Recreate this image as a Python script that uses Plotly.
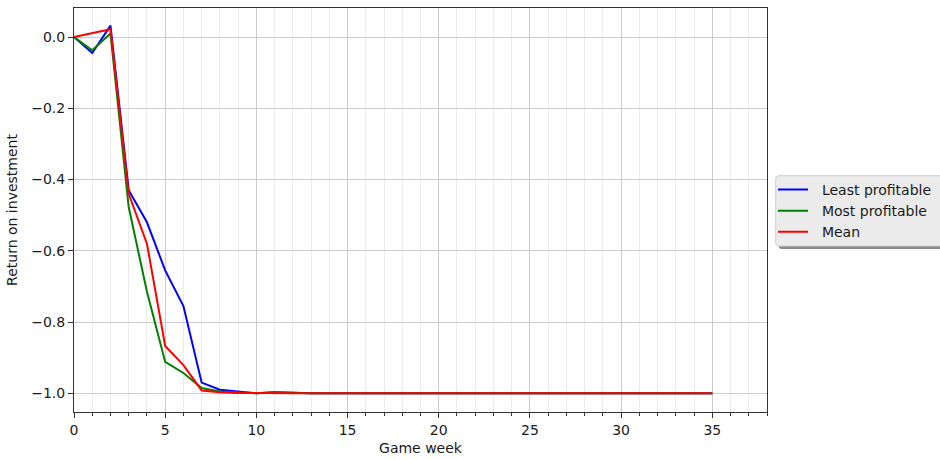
import plotly.graph_objects as go

weeks = list(range(0, 36))
mean_weeks = [0] + list(range(2, 36))

least_profitable = [0.0, -0.045, 0.032, -0.43, -0.52, -0.655, -0.755, -0.97, -0.99, -0.996,
                    -1.0, -0.997, -0.999] + [-1.0] * 23
most_profitable = [0.0, -0.037, 0.01, -0.477, -0.715, -0.912, -0.943, -0.985, -0.995, -0.998,
                   -1.0, -0.997, -0.999] + [-1.0] * 23
mean_values = [0.0, 0.022, -0.44, -0.58, -0.867, -0.921, -0.992, -0.997, -0.999,
               -1.0, -0.999, -1.0] + [-1.0] * 23

series_names = ["Least profitable", "Most profitable", "Mean"]

x_ticks = [0, 5, 10, 15, 20, 25, 30, 35]
y_ticks = [0.0, -0.2, -0.4, -0.6, -0.8, -1.0]
y_tick_labels = ["0.0", "\u22120.2", "\u22120.4", "\u22120.6", "\u22120.8", "\u22121.0"]

W, H = 940, 460
ML, MR, MT, MB = 74, 173, 8, 48
PW, PH = W - ML - MR, H - MT - MB

fig = go.Figure()
pad = "\u00a0\u00a0"
fig.add_trace(go.Scatter(x=weeks, y=least_profitable, mode="lines", name=pad + series_names[0],
                         line=dict(color="#0000ff", width=2)))
fig.add_trace(go.Scatter(x=weeks, y=most_profitable, mode="lines", name=pad + series_names[1],
                         line=dict(color="#008000", width=2)))
fig.add_trace(go.Scatter(x=mean_weeks, y=mean_values, mode="lines", name=pad + series_names[2],
                         line=dict(color="#ff0000", width=2)))


def rounded_rect(x0, y0, x1, y1, r=3):
    # page pixel coords -> paper coords path
    def px(x):
        return (x - ML) / PW

    def py(y):
        return 1 - (y - MT) / PH
    return (f"M{px(x0 + r)},{py(y0)} L{px(x1 - r)},{py(y0)} Q{px(x1)},{py(y0)} {px(x1)},{py(y0 + r)} "
            f"L{px(x1)},{py(y1 - r)} Q{px(x1)},{py(y1)} {px(x1 - r)},{py(y1)} "
            f"L{px(x0 + r)},{py(y1)} Q{px(x0)},{py(y1)} {px(x0)},{py(y1 - r)} "
            f"L{px(x0)},{py(y0 + r)} Q{px(x0)},{py(y0)} {px(x0 + r)},{py(y0)} Z")


bx0, by0, bx1, by1 = 775.7, 175.7, 948, 246
shapes = [
    dict(type="path", xref="paper", yref="paper", path=rounded_rect(bx0 + 3, by0 + 3, bx1 + 3, by1 + 3),
         fillcolor="#8c8c8c", line=dict(width=0), layer="above"),
    dict(type="path", xref="paper", yref="paper", path=rounded_rect(bx0, by0, bx1, by1),
         fillcolor="#ebebeb", line=dict(color="#cfcfcf", width=1), layer="above"),
]

font = dict(family="DejaVu Sans", size=14, color="#1a1a1a")
fig.update_layout(
    width=W, height=H,
    margin=dict(l=ML, r=MR, t=MT, b=MB, autoexpand=False),
    paper_bgcolor="white", plot_bgcolor="white",
    font=font,
    showlegend=True,
    shapes=shapes,
    legend=dict(xref="container", yref="container",
                x=773 / W, y=1 - ((175.7 + 246) / 2) / H,
                xanchor="left", yanchor="middle",
                bgcolor="rgba(0,0,0,0)", borderwidth=0,
                font=dict(family="DejaVu Sans", size=14, color="#1a1a1a"),
                itemwidth=30, tracegroupgap=0),
    xaxis=dict(range=[0, 38], tickvals=x_ticks, ticks="outside", ticklen=5, tickcolor="#333333",
               tickfont=dict(size=14),
               showgrid=True, gridcolor="#cccccc", gridwidth=1,
               minor=dict(dtick=1, tick0=0, ticks="outside", ticklen=3, tickcolor="#333333",
                          showgrid=True, gridcolor="#ececec", gridwidth=1),
               showline=True, linecolor="#333333", linewidth=1, mirror=True, zeroline=False,
               title=dict(text="Game week", standoff=6, font=dict(size=14))),
    yaxis=dict(range=[-1.0525, 0.0815], tickvals=y_ticks, ticktext=y_tick_labels,
               ticks="outside", ticklen=5, tickcolor="#333333", tickfont=dict(size=14),
               showgrid=True, gridcolor="#cccccc", gridwidth=1,
               showline=True, linecolor="#333333", linewidth=1, mirror=True, zeroline=False,
               title=dict(text="Return on investment", standoff=10, font=dict(size=14))),
)

fig.write_html("out.html", config={"displayModeBar": False},
               post_script="document.body.style.margin='0';document.body.style.overflow='hidden';")
